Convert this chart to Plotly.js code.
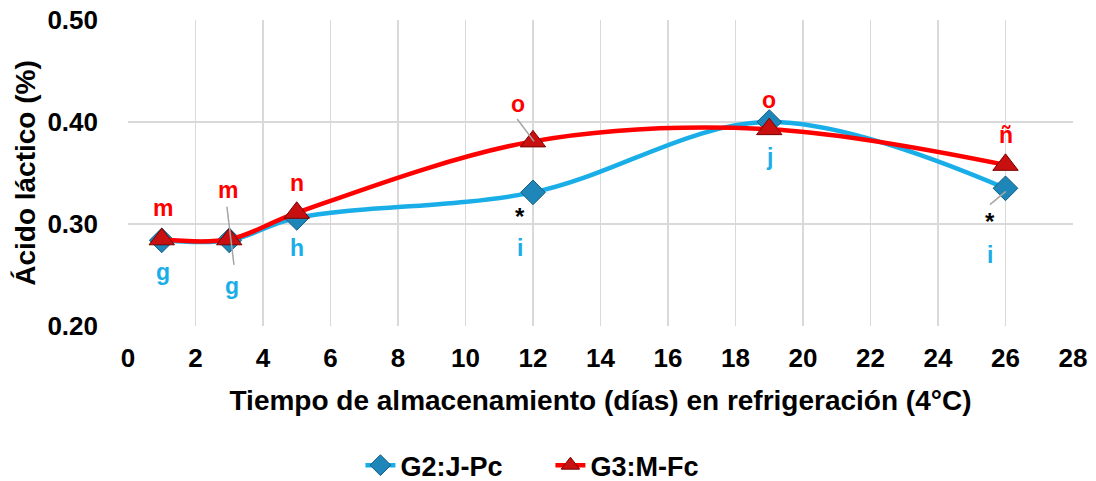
<!DOCTYPE html>
<html>
<head>
<meta charset="utf-8">
<script src="https://cdn.plot.ly/plotly-3.0.1.min.js"></script>
<style>html,body{margin:0;padding:0;background:#fff;}#chart{width:1096px;height:481px;}</style>
</head>
<body>
<div id="chart"></div>
<script>
var days = [1, 3, 5, 12, 19, 26];
var g2Values = [0.284, 0.284, 0.306, 0.331, 0.400, 0.335];
var g3Values = [0.285, 0.285, 0.311, 0.381, 0.393, 0.358];
var seriesNames = ['G2:J-Pc', 'G3:M-Fc'];
var g3Letters = ['m', 'm', 'n', 'o', 'o', 'ñ'];
var g2Letters = ['g', 'g', 'h', 'i', 'j', 'i'];
var xTicks = [0, 2, 4, 6, 8, 10, 12, 14, 16, 18, 20, 22, 24, 26, 28];
var yTicks = [0.20, 0.30, 0.40, 0.50];

// label placement (data coords)
var g3LabelPos = [[1.04, 0.316], [2.96, 0.333], [5.0, 0.340], [11.55, 0.418], [19.0, 0.422], [26.0, 0.387]];
var g2LabelPos = [[1.04, 0.253], [3.08, 0.239], [5.0, 0.276], [11.6, 0.276], [19.0, 0.366], [25.55, 0.270]];
var starPos = [[11.6, 0.307], [25.55, 0.302]];
var leaders = [[2.93, 0.317, 3.14, 0.260], [11.53, 0.403, 12.03, 0.381], [25.54, 0.319, 26.01, 0.332]];

var font = 'Liberation Sans, Arial, sans-serif';

var traces = [
  {x: days, y: g2Values, name: seriesNames[0], type: 'scatter', mode: 'lines+markers',
   line: {color: '#1AAEE8', width: 4.5, shape: 'spline', smoothing: 1},
   marker: {symbol: 'diamond', size: 19, color: '#1E86B8', line: {color: '#155E85', width: 1}}},
  {x: days, y: g3Values, name: seriesNames[1], type: 'scatter', mode: 'lines+markers',
   line: {color: '#FF0000', width: 4.5, shape: 'spline', smoothing: 1},
   marker: {symbol: 'triangle-up', size: 22, color: '#C81010', line: {color: '#7A0000', width: 1}}}
];

var annotations = [];
for (var i = 0; i < days.length; i++) {
  annotations.push({x: g3LabelPos[i][0], y: g3LabelPos[i][1], xref: 'x', yref: 'y', text: g3Letters[i], showarrow: false,
    font: {family: font, size: 23, color: '#FF0000', weight: 'bold'}});
  annotations.push({x: g2LabelPos[i][0], y: g2LabelPos[i][1], xref: 'x', yref: 'y', text: g2Letters[i], showarrow: false,
    font: {family: font, size: 23, color: '#1AAEE8', weight: 'bold'}});
}
starPos.forEach(function (p) {
  annotations.push({x: p[0], y: p[1], xref: 'x', yref: 'y', text: '*', showarrow: false,
    font: {family: font, size: 24, color: '#000', weight: 'bold'}});
});

var shapes = leaders.map(function (l) {
  return {type: 'line', xref: 'x', yref: 'y', x0: l[0], y0: l[1], x1: l[2], y1: l[3],
    line: {color: '#A6A6A6', width: 1.5}, layer: 'above'};
});

var layout = {
  width: 1096, height: 481,
  margin: {l: 128, r: 23, t: 20, b: 155},
  paper_bgcolor: '#fff', plot_bgcolor: '#fff',
  font: {family: font, color: '#000'},
  xaxis: {range: [0, 28], tickvals: xTicks, ticktext: xTicks.map(String), automargin: false,
    showgrid: true, gridcolor: '#D9D9D9', gridwidth: 1.5, zeroline: false, showline: false, ticks: '',
    ticklabelstandoff: 14,
    tickfont: {family: font, size: 26, weight: 'bold'},
    title: {text: 'Tiempo de almacenamiento (días) en refrigeración (4°C)', font: {family: font, size: 28, weight: 'bold'}, standoff: 18}},
  yaxis: {range: [0.20, 0.50], tickvals: yTicks, ticktext: yTicks.map(function (v) { return v.toFixed(2); }), automargin: false,
    showgrid: true, gridcolor: '#D9D9D9', gridwidth: 1.5, zeroline: false, showline: false, ticks: '',
    ticklabelstandoff: 29,
    tickfont: {family: font, size: 26, weight: 'bold'},
    title: {text: 'Ácido láctico (%)', font: {family: font, size: 28, weight: 'bold'}, standoff: 3}},
  showlegend: true,
  legend: {orientation: 'h', xref: 'paper', x: 0.447, xanchor: 'center', yref: 'container', y: 0.032, yanchor: 'middle',
    entrywidth: 145, entrywidthmode: 'pixels',
    font: {family: font, size: 27, weight: 'bold'}},
  annotations: annotations,
  shapes: shapes
};

Plotly.newPlot('chart', traces, layout, {displayModeBar: false, staticPlot: true});
</script>
</body>
</html>
